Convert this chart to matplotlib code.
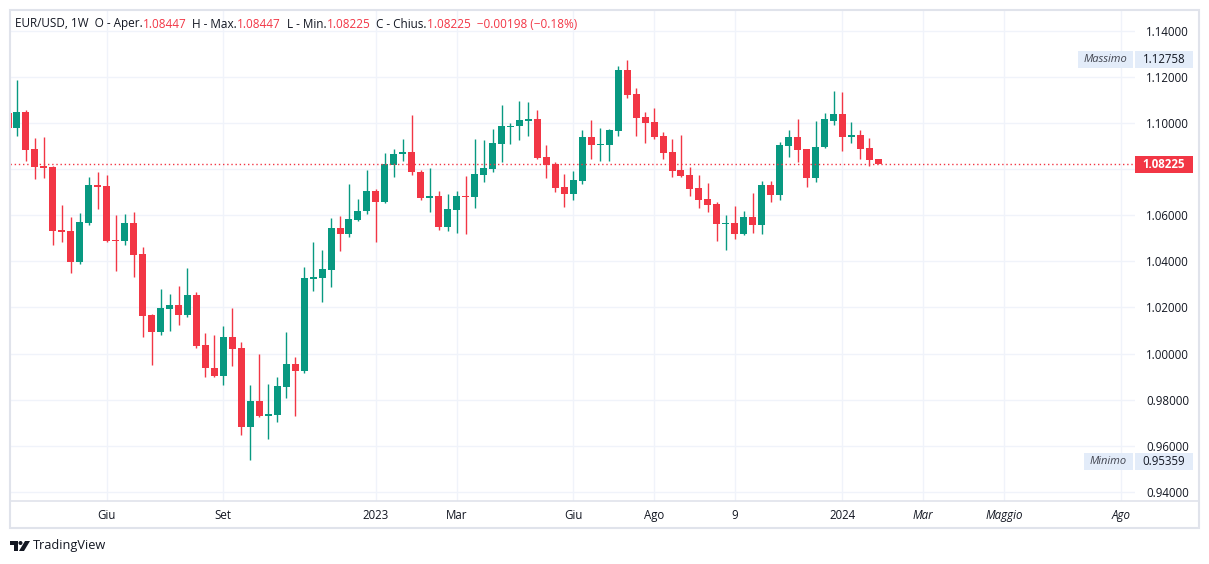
import numpy as np
import pandas as pd
import matplotlib
matplotlib.use("Agg")
import matplotlib.pyplot as plt
from matplotlib.patches import Rectangle, Polygon, Circle

# EUR/USD weekly candles
start = "2022-03-21"
opens = [1.1046, 1.0981, 1.1049, 1.0888, 1.0814, 1.0812, 1.0536, 1.0532, 1.0399, 1.0568,
         1.0732, 1.0728, 1.0492, 1.0490, 1.0567, 1.0432, 1.0167, 1.0094, 1.0194, 1.0210,
         1.0168, 1.0254, 1.0036, 0.9936, 0.9903, 1.0071, 1.0022, 0.9681, 0.9793, 0.9727,
         0.9733, 0.9855, 0.9953, 0.9924, 1.0324, 1.0327, 1.0362, 1.0545, 1.0520, 1.0581,
         1.0619, 1.0706, 1.0658, 1.0820, 1.0865, 1.0875, 1.0790, 1.0675, 1.0684, 1.0551,
         1.0624, 1.0686, 1.0681, 1.0775, 1.0803, 1.0911, 1.0984, 1.0988, 1.1010, 1.1019,
         1.0853, 1.0823, 1.0723, 1.0693, 1.0749, 1.0940, 1.0906, 1.0906, 1.0967, 1.1232,
         1.1127, 1.1027, 1.1005, 1.0945, 1.0875, 1.0797, 1.0775, 1.0718, 1.0671, 1.0649,
         1.0562, 1.0566, 1.0519, 1.0593, 1.0558, 1.0732, 1.0688, 1.0902, 1.0940, 1.0887,
         1.0762, 1.0897, 1.1010, 1.1040, 1.0940, 1.0949, 1.0892, 1.08447]
highs = [1.1066, 1.1188, 1.1058, 1.0936, 1.0941, 1.0814, 1.0645, 1.0593, 1.0610, 1.0767,
         1.0788, 1.0775, 1.0601, 1.0606, 1.0614, 1.0462, 1.0170, 1.0280, 1.0258, 1.0293,
         1.0371, 1.0267, 1.0087, 1.0079, 1.0119, 1.0197, 1.0049, 0.9862, 0.9997, 0.9867,
         0.9897, 1.0093, 0.9984, 1.0375, 1.0484, 1.0449, 1.0588, 1.0597, 1.0736, 1.0671,
         1.0797, 1.0714, 1.0872, 1.0888, 1.0932, 1.1035, 1.0797, 1.0806, 1.0706, 1.0693,
         1.0706, 1.0771, 1.0932, 1.0927, 1.0975, 1.1080, 1.1001, 1.1097, 1.1092, 1.1058,
         1.0906, 1.0832, 1.0780, 1.0793, 1.0971, 1.1014, 1.0980, 1.0975, 1.1249, 1.12758,
         1.1153, 1.1049, 1.1067, 1.0962, 1.0932, 1.0949, 1.0810, 1.0775, 1.0740, 1.0658,
         1.0601, 1.0640, 1.0619, 1.0697, 1.0749, 1.0749, 1.0919, 1.0971, 1.1019, 1.0890,
         1.1010, 1.1045, 1.1140, 1.1136, 1.1006, 1.0971, 1.0936, 1.08447]
lows = [1.0960, 1.0945, 1.0838, 1.0759, 1.0764, 1.0471, 1.0484, 1.0351, 1.0390, 1.0560,
        1.0629, 1.0485, 1.0359, 1.0471, 1.0333, 1.0072, 0.9949, 1.0080, 1.0099, 1.0123,
        1.0159, 1.0026, 0.9899, 0.9900, 0.9862, 0.9945, 0.9646, 0.95359, 0.9724, 0.9629,
        0.9703, 0.9807, 0.9729, 0.9916, 1.0271, 1.0225, 1.0288, 1.0446, 1.0507, 1.0577,
        1.0606, 1.0484, 1.0654, 1.0768, 1.0838, 1.0777, 1.0666, 1.0614, 1.0536, 1.0533,
        1.0525, 1.0520, 1.0633, 1.0746, 1.0790, 1.0833, 1.0911, 1.0927, 1.0945, 1.0845,
        1.0762, 1.0701, 1.0636, 1.0667, 1.0736, 1.0845, 1.0836, 1.0836, 1.0945, 1.1110,
        1.0945, 1.0914, 1.0931, 1.0845, 1.0767, 1.0768, 1.0684, 1.0632, 1.0614, 1.0488,
        1.0449, 1.0497, 1.0515, 1.0523, 1.0519, 1.0658, 1.0667, 1.0853, 1.0832, 1.0723,
        1.0745, 1.0893, 1.0992, 1.0880, 1.0914, 1.0845, 1.0814, 1.08225]
closes = [1.0981, 1.1049, 1.0884, 1.0812, 1.0807, 1.0533, 1.0529, 1.0399, 1.0571, 1.0732,
          1.0725, 1.0490, 1.0488, 1.0567, 1.0429, 1.0164, 1.0094, 1.0197, 1.0210, 1.0168,
          1.0254, 1.0033, 0.9935, 0.9903, 1.0071, 1.0020, 0.9681, 0.9793, 0.9727, 0.9736,
          0.9858, 0.9953, 0.9924, 1.0327, 1.0332, 1.0367, 1.0545, 1.0520, 1.0584, 1.0619,
          1.0706, 1.0658, 1.0823, 1.0867, 1.0875, 1.0790, 1.0675, 1.0684, 1.0551, 1.0626,
          1.0684, 1.0680, 1.0780, 1.0806, 1.0914, 1.0988, 1.0991, 1.1014, 1.1019, 1.0849,
          1.0819, 1.0719, 1.0693, 1.0753, 1.0940, 1.0906, 1.0910, 1.0971, 1.1232, 1.1123,
          1.1023, 1.1001, 1.0940, 1.0871, 1.0793, 1.0771, 1.0714, 1.0667, 1.0645, 1.0562,
          1.0566, 1.0519, 1.0593, 1.0558, 1.0732, 1.0688, 1.0906, 1.0940, 1.0884, 1.0762,
          1.0897, 1.1019, 1.1040, 1.0942, 1.0949, 1.0888, 1.08423, 1.08225]

tick_dates = ["2022-06-06", "2022-09-05", "2023-01-02", "2023-03-06", "2023-06-05", "2023-08-07",
              "2023-10-09", "2024-01-01", "2024-03-04", "2024-05-06", "2024-08-05"]
tick_labels = ["Giu", "Set", "2023", "Mar", "Giu", "Ago", "9", "2024", "Mar", "Maggio", "Ago"]
price_ticks = [0.94, 0.96, 0.98, 1.00, 1.02, 1.04, 1.06, 1.08, 1.10, 1.12, 1.14]

GREEN = "#089981"
RED = "#f23645"
TXT = "#131722"
GRID = "#f0f3fa"
FRAME = "#e0e3eb"
W, H = 1209, 564

plt.rcParams["font.family"] = ["Open Sans", "DejaVu Sans"]

o = np.array(opens); h = np.array(highs); l = np.array(lows); c = np.array(closes)
idx = np.arange(len(o))
t0 = pd.Timestamp(start)
tick_pos = [(pd.Timestamp(d) - t0).days / 7 for d in tick_dates]
last = c[-1]

fig = plt.figure(figsize=(W / 100, H / 100), dpi=100)
fig.patch.set_facecolor("white")
ax = fig.add_axes([10 / W, 1 - 501 / H, 1125 / W, 491 / H])
ax.set_facecolor("white")

col = np.where(c >= o, GREEN, RED)
ax.vlines(idx, l, h, colors=col, lw=1, zorder=3)
ax.bar(idx, np.maximum(np.abs(c - o), 0.0004), bottom=np.minimum(o, c), width=0.78,
       color=col, lw=0, zorder=4)

ax.axhline(last, color=RED, lw=1, ls=(0, (1, 2)), zorder=5)

ax.set_xlim(0.22, 125.6)
ax.set_ylim(0.9359, 1.1493)
ax.set_yticks(price_ticks)
# the last-price tag covers the nearest scale label
ax.set_yticklabels(["" if abs(p - last) < 0.006 else f"{p:.5f}" for p in price_ticks])
ax.yaxis.tick_right()
ax.set_xticks(tick_pos)
ax.set_xticklabels(tick_labels)
ax.tick_params(axis="y", length=0, pad=8, labelsize=8.3, labelcolor=TXT)
ax.tick_params(axis="x", length=0, pad=6, labelsize=8.3, labelcolor=TXT)
for lab in ax.get_xticklabels()[8:]:
    lab.set_fontstyle("italic")
ax.grid(True, color=GRID, lw=1, zorder=0)
for s in ax.spines.values():
    s.set_visible(False)

# overlay in pixel coordinates
ov = fig.add_axes([0, 0, 1, 1], zorder=10)
ov.set_xlim(0, W)
ov.set_ylim(H, 0)
ov.axis("off")
ov.patch.set_alpha(0)

ov.add_patch(Rectangle((10, 10), 1189, 518, fill=False, ec=FRAME, lw=1.5))
ov.plot([10, 1199], [501, 501], color=FRAME, lw=1.2)

# price label of last close
ov.add_patch(Rectangle((1135, 156), 58, 17, fc=RED, ec="none"))
ov.text(1164, 164.5, f"{last:.5f}", color="white", fontsize=8.3, fontweight="bold",
        ha="center", va="center")

# max / min markers
hi, lo = h.max(), l.min()
BOX = "#e3ecf9"
ov.add_patch(Rectangle((1078, 51), 55, 17, fc=BOX, ec="none"))
ov.add_patch(Rectangle((1135, 51), 58, 17, fc=BOX, ec="none"))
ov.text(1105.5, 59.5, "Massimo", color="#434651", fontsize=8, ha="center", va="center", style="italic")
ov.text(1164, 59.5, f"{hi:.5f}", color=TXT, fontsize=8.3, ha="center", va="center")
ov.add_patch(Rectangle((1084, 453), 49, 17, fc=BOX, ec="none"))
ov.add_patch(Rectangle((1135, 453), 58, 17, fc=BOX, ec="none"))
ov.text(1108.5, 461.5, "Minimo", color="#434651", fontsize=8, ha="center", va="center", style="italic")
ov.text(1164, 461.5, f"{lo:.5f}", color=TXT, fontsize=8.3, ha="center", va="center")

# header legend
chg = c[-1] - c[-2]
pct = chg / c[-2] * 100
pieces = [("EUR/USD, 1W  O - Aper.", TXT), (f"{o[-1]:.5f}", RED),
          ("  H - Max.", TXT), (f"{h[-1]:.5f}", RED),
          ("  L - Min.", TXT), (f"{l[-1]:.5f}", RED),
          ("  C - Chius.", TXT),
          (f"{c[-1]:.5f}  \u2212{abs(chg):.5f} (\u2212{abs(pct):.2f}%)", RED)]
r = fig.canvas.get_renderer()
x = 15
for s, colr in pieces:
    t = ov.text(x, 24, s, color=colr, fontsize=8.45, ha="left", va="center")
    x += t.get_window_extent(renderer=r).width

# TradingView logo
ov.add_patch(Polygon([(10, 541), (18, 541), (18, 551), (14, 551), (14, 545), (10, 545)],
                     closed=True, fc=TXT, ec="none"))
ov.add_patch(Circle((20.5, 543), 2, fc=TXT, ec="none"))
ov.add_patch(Polygon([(25, 541), (30, 541), (24, 551), (19, 551)], closed=True, fc=TXT, ec="none"))
ov.text(33, 546, "TradingView", color=TXT, fontsize=9.2, ha="left", va="center")

fig.savefig("out.png", dpi=100)
